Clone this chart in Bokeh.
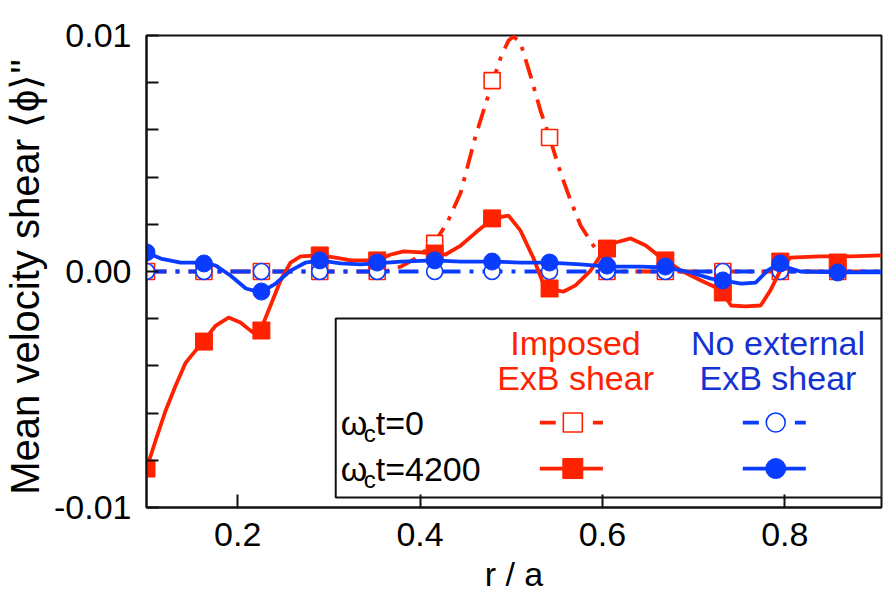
from bokeh.plotting import figure
from bokeh.models import Range1d, FixedTicker, BoxAnnotation, Label
from bokeh.embed import file_html
from bokeh.resources import INLINE

# ---------------- data ----------------
r_pts = [0.100, 0.163, 0.226, 0.290, 0.353, 0.416, 0.479, 0.542, 0.605, 0.669, 0.732, 0.795, 0.858]

# omega_c t = 0, imposed ExB shear (open squares)
imposed_t0 = [0, 0, 0, 0, 0, 0.00119, 0.00809, 0.00568, 0, 0, 0, 0, 0]
# omega_c t = 4200, imposed ExB shear (filled squares)
imposed_t4200 = [-0.00835, -0.00297, -0.00250, 0.00068, 0.00047, 0.00076, 0.00225,
                 -0.00072, 0.00097, 0.00047, -0.00089, 0.00042, 0.00038]
# omega_c t = 0, no external ExB shear (open circles)
noext_t0 = [0, 0, 0, 0, 0, 0, 0, 0, 0, 0, 0, 0, 0]
# omega_c t = 4200, no external ExB shear (filled circles)
noext_t4200 = [0.00081, 0.00034, -0.00085, 0.00047, 0.00038, 0.00047, 0.00042,
               0.00038, 0.00025, 0.00021, -0.00038, 0.00034, -0.00004]

# smooth curves
imposed_t0_r = [0.100, 0.362, 0.379, 0.395, 0.415, 0.430, 0.4446, 0.461, 0.480, 0.4885, 0.497,
                0.5025, 0.510, 0.521, 0.532, 0.542, 0.554, 0.565, 0.576, 0.590, 0.601, 0.611,
                0.620, 0.906]
imposed_t0_v = [0, 0, 0.00021, 0.00055, 0.00119, 0.00208, 0.00335, 0.00576, 0.00809, 0.00907,
                0.00979, 0.00996, 0.00970, 0.00831, 0.00682, 0.00568, 0.00419, 0.00301,
                0.00195, 0.00110, 0.00055, 0.00017, 0, 0]

imposed_t4200_r = [0.100, 0.110, 0.121, 0.132, 0.143, 0.162, 0.176, 0.190, 0.203, 0.2165, 0.225,
                   0.236, 0.247, 0.258, 0.269, 0.289, 0.3075, 0.324, 0.3525, 0.368, 0.382, 0.401,
                   0.415, 0.428, 0.4446, 0.461, 0.480, 0.497, 0.510, 0.5245, 0.5355, 0.543,
                   0.5575, 0.5705, 0.587, 0.598, 0.606, 0.6145, 0.631, 0.6475, 0.6585, 0.6695,
                   0.686, 0.708, 0.7245, 0.732, 0.741, 0.757, 0.7735, 0.784, 0.795, 0.806,
                   0.839, 0.872, 0.906]
imposed_t4200_v = [-0.00835, -0.00716, -0.00589, -0.00483, -0.00386, -0.00297, -0.00229,
                   -0.00195, -0.00216, -0.00258, -0.00250, -0.00144, -0.00038, 0.00038,
                   0.00064, 0.00068, 0.00059, 0.00047, 0.00047, 0.00072, 0.00085, 0.00081,
                   0.00076, 0.00072, 0.00110, 0.00165, 0.00225, 0.00237, 0.00174, 0.00055,
                   -0.00055, -0.00076, -0.00085, -0.00059, 0.00004, 0.00068, 0.00097,
                   0.00123, 0.00140, 0.00110, 0.00076, 0.00047, 0.00004, -0.00038, -0.00068,
                   -0.00089, -0.00144, -0.00148, -0.00144, -0.00081, 0.00004, 0.00059,
                   0.00064, 0.00064, 0.00068]

noext_t0_r = [0.100, 0.906]
noext_t0_v = [0, 0]

noext_t4200_r = [0.100, 0.1156, 0.1375, 0.162, 0.176, 0.192, 0.209, 0.225, 0.2417, 0.258,
                 0.2746, 0.289, 0.313, 0.335, 0.3525, 0.379, 0.415, 0.4446, 0.480, 0.510,
                 0.542, 0.576, 0.606, 0.642, 0.6695, 0.697, 0.719, 0.732, 0.752, 0.768,
                 0.781, 0.793, 0.806, 0.817, 0.861, 0.906]
noext_t4200_v = [0.00081, 0.00055, 0.00038, 0.00038, 0.00025, -0.00017, -0.00072, -0.00089,
                 -0.00051, 0.00004, 0.00038, 0.00047, 0.00034, 0.00030, 0.00034, 0.00042,
                 0.00047, 0.00042, 0.00042, 0.00038, 0.00038, 0.00030, 0.00021, 0.00021,
                 0.00017, -0.00004, -0.00030, -0.00038, -0.00051, -0.00047, 0.00004,
                 0.00034, 0.00013, 0.0, -0.00004, -0.00004]

x_ticks = [0.2, 0.4, 0.6, 0.8]
y_ticks = [-0.01, 0, 0.01]
y_tick_labels = ["-0.01", "0.00", "0.01"]
y_minor = [-0.008, -0.006, -0.004, -0.002, 0.002, 0.004, 0.006, 0.008]

series_names = ["Imposed\nExB shear", "No external\nExB shear"]
time_labels = ["t=0", "t=4200"]

RED = "#ff2200"
BLUE = "#0a3cff"
BLUE_TXT = "#1432d2"
FONT = "Liberation Sans"
DASH = "20 9 4 9"
LW = 3.8

# ---------------- figure ----------------
p = figure(width=884, height=598, x_range=Range1d(0.1, 0.906), y_range=Range1d(-0.01, 0.01),
           output_backend="svg", toolbar_location=None,
           min_border_left=145, min_border_right=3, min_border_top=35, min_border_bottom=91)
p.grid.visible = False
p.background_fill_color = "white"
p.border_fill_color = "white"
p.outline_line_color = "#111111"
p.outline_line_width = 2

for ax in (p.xaxis[0], p.yaxis[0]):
    ax.axis_line_color = "#111111"
    ax.axis_line_width = 2
    ax.major_tick_line_color = "#111111"
    ax.major_tick_line_width = 2
    ax.minor_tick_line_color = "#111111"
    ax.minor_tick_line_width = 2
    ax.major_tick_out = 0
    ax.minor_tick_out = 0
    ax.major_label_text_font = FONT
    ax.major_label_text_font_size = "34px"
    ax.major_label_text_color = "black"
    ax.axis_label_text_font = FONT
    ax.axis_label_text_font_style = "normal"
    ax.axis_label_text_color = "black"

p.xaxis.ticker = FixedTicker(ticks=x_ticks, minor_ticks=[])
p.xaxis.major_tick_in = 13
p.xaxis.minor_tick_in = 0
p.xaxis.major_label_standoff = 15
p.xaxis.axis_label = "r / a"
p.xaxis.axis_label_text_font_size = "34px"
p.xaxis.axis_label_standoff = 6

p.yaxis.ticker = FixedTicker(ticks=y_ticks, minor_ticks=y_minor)
p.yaxis.major_label_overrides = {t: s for t, s in zip(y_ticks, y_tick_labels)}
p.yaxis.major_tick_in = 12
p.yaxis.minor_tick_in = 12
p.yaxis.major_label_standoff = 15
p.yaxis.axis_label = "Mean velocity shear  \u27e8\u03d5\u27e9\""
p.yaxis.axis_label_text_font_size = "40px"
p.yaxis.axis_label_standoff = 4

# ---------------- data glyphs ----------------
p.line(imposed_t0_r, imposed_t0_v, line_color=RED, line_width=LW, line_dash=DASH)
p.scatter(r_pts, imposed_t0, marker="square", size=16, fill_color="white",
          line_color=RED, line_width=1.6)
p.line(noext_t0_r, noext_t0_v, line_color=BLUE, line_width=LW, line_dash=DASH)
p.scatter(r_pts, noext_t0, marker="circle", size=16, fill_color="white",
          line_color=BLUE, line_width=1.6)
p.line(imposed_t4200_r, imposed_t4200_v, line_color=RED, line_width=LW)
p.scatter(r_pts, imposed_t4200, marker="square", size=17, fill_color=RED, line_color=RED)
p.line(noext_t4200_r, noext_t4200_v, line_color=BLUE, line_width=LW)
p.scatter(r_pts, noext_t4200, marker="circle", size=17, fill_color=BLUE, line_color=BLUE)

# ---------------- legend (drawn by hand) ----------------
box = BoxAnnotation(left=0.3075, bottom=-0.00958, top=-0.00199, fill_color="white",
                    fill_alpha=1.0, line_color="#111111", line_alpha=1.0, line_width=2,
                    level="underlay")
p.add_layout(box)

head_y = [-0.00305, -0.00453]
for i, txt in enumerate(series_names[0].split("\n")):
    p.add_layout(Label(x=0.5705, y=head_y[i], text=txt, text_align="center",
                       text_baseline="middle", text_font=FONT, text_font_size="34px",
                       text_color=RED))
for i, txt in enumerate(series_names[1].split("\n")):
    p.add_layout(Label(x=0.7925, y=head_y[i], text=txt, text_align="center",
                       text_baseline="middle", text_font=FONT, text_font_size="34px",
                       text_color=BLUE_TXT))

row_y = [-0.0064, -0.00835]
for i, tl in enumerate(time_labels):
    p.add_layout(Label(x=0.313, y=row_y[i], text="\u03c9", text_align="left",
                       text_baseline="middle", text_font=FONT, text_font_size="34px",
                       text_color="black"))
    p.add_layout(Label(x=0.313, y=row_y[i] - 0.00045, x_offset=23, text="c", text_align="left",
                       text_baseline="middle", text_font=FONT, text_font_size="24px",
                       text_color="black"))
    p.add_layout(Label(x=0.313, y=row_y[i], x_offset=35, text=tl, text_align="left",
                       text_baseline="middle", text_font=FONT, text_font_size="34px",
                       text_color="black"))

# sample lines
for (x0, x1, x2, x3, xm, col, mk) in [(0.5313, 0.5488, 0.5895, 0.6005, 0.5675, RED, "square"),
                                        (0.7539, 0.7715, 0.811, 0.823, 0.790, BLUE, "circle")]:
    y0 = row_y[0]
    p.line([x0, x1], [y0, y0], line_color=col, line_width=LW)
    p.line([x2, x3], [y0, y0], line_color=col, line_width=LW)
    p.scatter([xm], [y0], marker=mk, size=19, fill_color="white", line_color=col, line_width=1.6)
    y1 = row_y[1]
    p.line([x0, x3], [y1, y1], line_color=col, line_width=LW)
    p.scatter([xm], [y1], marker=mk, size=20, fill_color=col, line_color=col)

open("out.html", "w").write(file_html(p, INLINE))
